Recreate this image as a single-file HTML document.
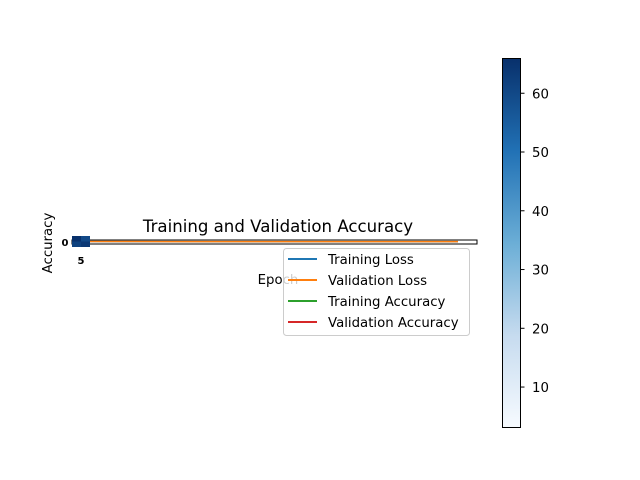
<!DOCTYPE html>
<html><head><meta charset="utf-8"><style>
body{margin:0;background:#fff;}
svg{display:block;font-family:"DejaVu Sans","Liberation Sans",sans-serif;}
</style></head><body>
<svg width="640" height="480" viewBox="0 0 640 480">
<defs>
<linearGradient id="blues" x1="0" y1="1" x2="0" y2="0">
<stop offset="0" stop-color="#f7fbff"/><stop offset="0.25" stop-color="#c6dbef"/>
<stop offset="0.5" stop-color="#6baed6"/><stop offset="0.75" stop-color="#2171b5"/>
<stop offset="1" stop-color="#08306b"/></linearGradient>
</defs>
<text x="278" y="232" font-size="16.6" text-anchor="middle">Training and Validation Accuracy</text>
<text transform="translate(52,243) rotate(-90)" font-size="13.3" text-anchor="middle">Accuracy</text>
<text x="278" y="284" font-size="13.3" text-anchor="middle">Epoch</text>
<g id="plot"></g>
<rect x="72" y="240" width="405" height="4" fill="none" stroke="#000" stroke-width="1"/>
<g id="heat"></g>
<text x="65" y="246" font-size="10" font-weight="bold" text-anchor="middle">0</text>
<text x="81" y="264" font-size="10" font-weight="bold" text-anchor="middle">5</text>
<g>
<rect x="283.5" y="248.5" width="186" height="87" rx="3" fill="#fff" fill-opacity="0.8" stroke="#ccc"/>
<g id="leg"></g>
</g>
<rect x="502.5" y="58.5" width="18" height="369" fill="url(#blues)" stroke="#000"/>
<g id="cbt"></g>
</svg>
<script>
const seriesNames=["Training Loss","Validation Loss","Training Accuracy","Validation Accuracy"];
const seriesColors=["#1f77b4","#ff7f0e","#2ca02c","#d62728"];
const epochs=[0,1,2,3,4,5,6,7,8,9];
const trainLoss=[0.5,0.4,0.35,0.3,0.28,0.26,0.25,0.24,0.23,0.22];
const valLoss=[0.55,0.45,0.4,0.38,0.36,0.35,0.34,0.34,0.33,0.33];
const heatValues=[[66,60],[62,64]];
const cbTicks=[10,20,30,40,50,60];
const cbMin=3.2, cbMax=66;
const NS="http://www.w3.org/2000/svg";
function mk(t,a,p){const e=document.createElementNS(NS,t);for(const k in a)e.setAttribute(k,a[k]);p.appendChild(e);return e;}
const xs=e=>90+e*(458-90)/(epochs.length-1);
const ys=v=>242-v*1;
const plot=document.getElementById('plot');
[trainLoss,valLoss].forEach((s,i)=>{
 const p=mk('polyline',{points:s.map((v,j)=>xs(epochs[j])+','+ys(v)).join(' '),fill:'none',stroke:seriesColors[i],'stroke-width':1.5},plot);
 
 
});
function blue(v){const t=Math.max(0,Math.min(1,(v-cbMin)/(cbMax-cbMin)));const c=[[247,251,255],[198,219,239],[107,174,214],[33,113,181],[8,48,107]];const f=Math.min(3.999,t*4),i=Math.floor(f),r=f-i;return 'rgb('+c[i].map((x,k)=>Math.round(x+(c[i+1][k]-x)*r)).join(',')+')';}
const heat=document.getElementById('heat');
heatValues.forEach((row,r)=>row.forEach((v,c)=>{
 const e=mk('rect',{x:72+c*9,y:236+r*5.5,width:9,height:5.5,fill:blue(v)},heat);
 
 
}));
const leg=document.getElementById('leg');
seriesNames.forEach((n,i)=>{
 const y=259+i*21;
 const l=mk('line',{x1:288,x2:317,y1:y,y2:y,stroke:seriesColors[i],'stroke-width':2},leg);
 
 
 const t=mk('text',{x:328,y:y+5,'font-size':13.3},leg);t.textContent=n;
 
 
});
const cbt=document.getElementById('cbt');
const cy=v=>427-(v-cbMin)/(cbMax-cbMin)*369;
cbTicks.forEach(v=>{
 const y=cy(v);
 const l=mk('line',{x1:520.5,x2:524.5,y1:y,y2:y,stroke:'#000'},cbt);
 
 
 const t=mk('text',{x:532,y:y+5,'font-size':13.3},cbt);t.textContent=v;
 
 
});
</script>
</body></html>
